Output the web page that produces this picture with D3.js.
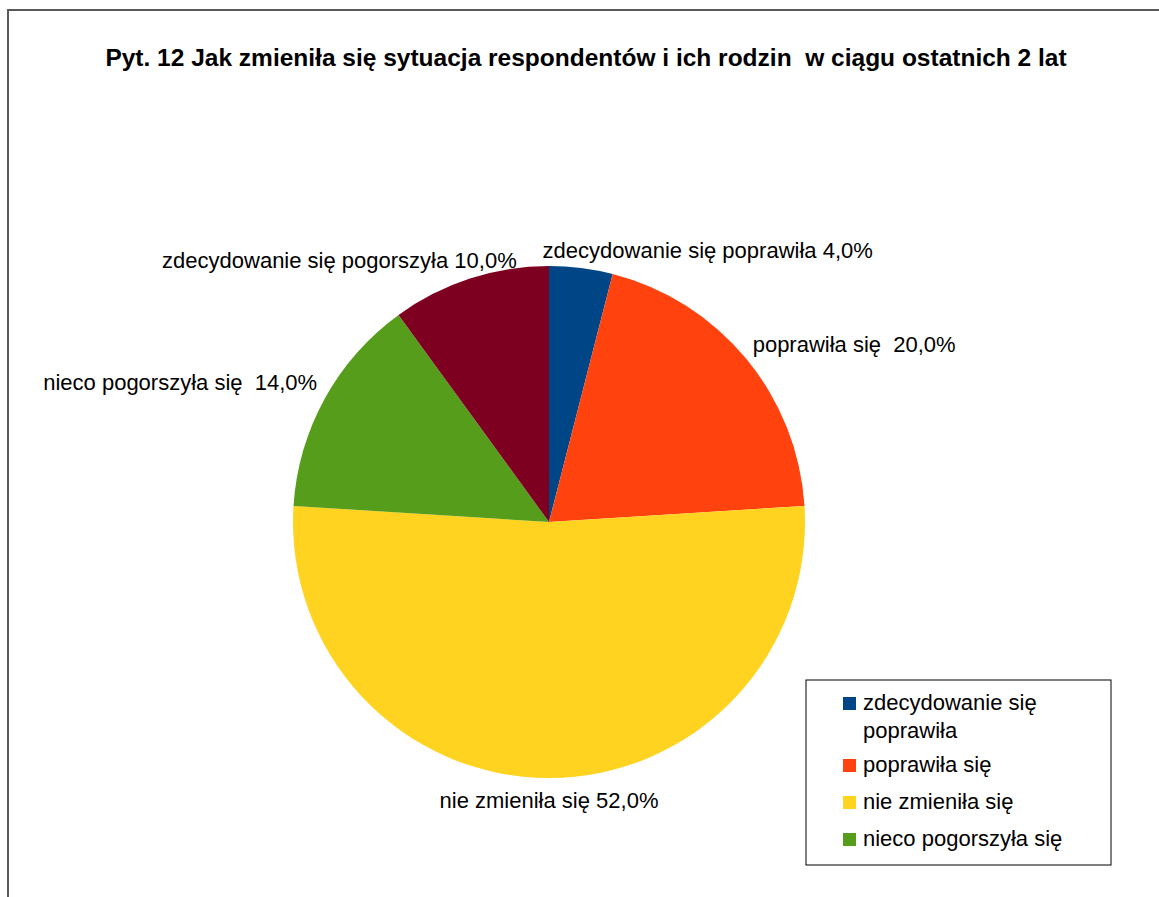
<!DOCTYPE html>
<html>
<head>
<meta charset="utf-8">
<script src="https://cdn.jsdelivr.net/npm/d3@7"></script>
<style>
  body { margin: 0; background: #fff; }
  svg { display: block; font-family: "Liberation Sans", Arial, sans-serif; }
</style>
</head>
<body>
<svg id="mainsvg" width="1159" height="897"></svg>
<script>
// dane z wykresu
const categories = [
  'zdecydowanie się poprawiła',
  'poprawiła się ',
  'nie zmieniła się',
  'nieco pogorszyła się ',
  'zdecydowanie się pogorszyła'
];
const values = [4, 20, 52, 14, 10];
const colors = ['#004586', '#ff420e', '#ffd320', '#579d1c', '#7e0021'];
const title = 'Pyt. 12 Jak zmieniła się sytuacja respondentów i ich rodzin  w ciągu ostatnich 2 lat';

// przesunięcia etykiet (styl, nie dane)
const labelNudge = [[-41, 10], [-9, 6], [0, 10], [10, 1], [53, 8]];

const svg = d3.select('#mainsvg'),
  width = Number(svg.attr('width')),
  height = Number(svg.attr('height'));

// ramka
svg.append('rect')
  .attr('x', 8).attr('y', 10)
  .attr('width', width + 20).attr('height', height + 20)
  .attr('fill', 'none')
  .attr('stroke', '#595959')
  .attr('stroke-width', 2);

svg.append('text')
  .text(title)
  .attr('x', 586)
  .attr('y', 66)
  .attr('text-anchor', 'middle')
  .attr('font-weight', 'bold')
  .attr('font-size', '24.5px')
  .style('white-space', 'pre');

const cx = 549, cy = 522, radius = 256;
const data = categories.map((c, i) => ({ name: c, value: values[i], color: colors[i] }));
const total = d3.sum(values);

const pie = d3.pie().sort(null).value(d => d.value);
const arc = d3.arc().innerRadius(0).outerRadius(radius);
const labelArc = d3.arc().innerRadius(radius + 20).outerRadius(radius + 20);

const fmt = d3.formatLocale({ decimal: ',', thousands: ' ', grouping: [3], currency: ['', ' zł'] }).format('.1f');

const g = svg.append('g').attr('transform', `translate(${cx}, ${cy})`);
const arcs = pie(data);

g.selectAll('path')
  .data(arcs)
  .join('path')
  .attr('d', arc)
  .attr('fill', d => d.data.color);

g.selectAll('text.lbl')
  .data(arcs)
  .join('text')
  .attr('class', 'lbl')
  .style('white-space', 'pre')
  .attr('font-size', '22px')
  .attr('fill', '#000')
  .each(function (d, i) {
    const [x, y] = labelArc.centroid(d);
    const mid = (d.startAngle + d.endAngle) / 2;
    let anchor = 'middle';
    if (Math.abs(Math.sin(mid)) > 0.05) anchor = Math.sin(mid) > 0 ? 'start' : 'end';
    d3.select(this)
      .attr('x', x + labelNudge[i][0])
      .attr('y', y + labelNudge[i][1])
      .attr('text-anchor', anchor)
      .text(d.data.name + ' ' + fmt(d.data.value / total * 100) + '%');
  });

// legenda
const lx = 806, ly = 680, lw = 305, lh = 185;
const leg = svg.append('g');
leg.append('rect')
  .attr('x', lx).attr('y', ly).attr('width', lw).attr('height', lh)
  .attr('fill', '#fff').attr('stroke', '#000').attr('stroke-width', 1);

let yy = ly + 30;
data.forEach(d => {
  if (yy > ly + lh - 5) return; // nie mieści się w ramce legendy
  const t = leg.append('text')
    .attr('x', lx + 57)
    .attr('y', yy)
    .attr('font-size', '22px');
  // zawijanie tekstu
  const words = d.name.trim().split(' ');
  let line = [], tspan = t.append('tspan').attr('x', lx + 57).attr('dy', 0), n = 1;
  words.forEach(w => {
    line.push(w);
    tspan.text(line.join(' '));
    if (tspan.node().getComputedTextLength() > 230 && line.length > 1) {
      line.pop();
      tspan.text(line.join(' '));
      line = [w];
      tspan = t.append('tspan').attr('x', lx + 57).attr('dy', 28).text(w);
      n++;
    }
  });
  leg.append('rect')
    .attr('x', lx + 37)
    .attr('y', yy - 13)
    .attr('width', 13)
    .attr('height', 13)
    .attr('fill', d.color);
  yy += 37 + (n - 1) * 25;
});
</script>
</body>
</html>
